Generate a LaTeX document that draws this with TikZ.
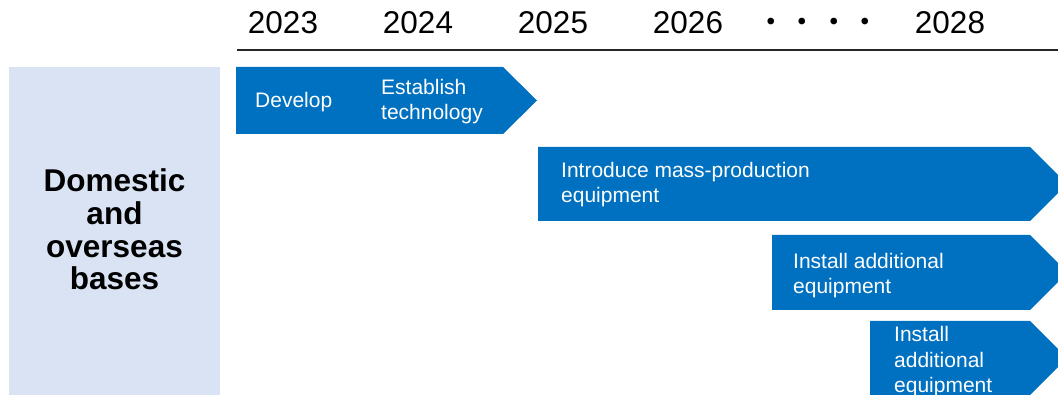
\documentclass[tikz,border=0pt]{standalone}
\usepackage{fontspec}
\setmainfont{Liberation Sans}
\newfontfamily\cjkfont{Noto Sans CJK JP}
\definecolor{barblue}{HTML}{0070C0}
\definecolor{panelblue}{HTML}{DAE3F3}

\begin{document}
\begin{tikzpicture}[x=1pt,y=-1pt,
  bar/.style={fill=barblue, draw=none},
  bartext/.style={anchor=base west, inner sep=0pt, text=white, align=left,
    font=\fontsize{21}{25.3}\selectfont},
  year/.style={anchor=base, inner sep=0pt, font=\fontsize{31.5}{36}\selectfont},
  paneltext/.style={anchor=base, inner sep=0pt, align=center,
    font=\fontsize{31.5}{32.7}\selectfont\bfseries}]
\useasboundingbox (0,0) rectangle (1058,395);
\clip (0,0) rectangle (1058,395);

% timeline header
\node[year] (y2023) at (283,34) {2023};
\node[year] (y2024) at (418,34) {2024};
\node[year] (y2025) at (553,34) {2025};
\node[year] (y2026) at (688,34) {2026};
\node[year, anchor=base west] (gap) at (755,34) {\cjkfont ・・・・};
\node[year] (y2028) at (950,34) {2028};
\coordinate (ruleL) at (237,50);
\coordinate (ruleR) at (1058,50);
\draw[line width=2pt, black!85] (ruleL) -- (ruleR);

% row label panel (base anchor = baseline of the last line)
\fill[panelblue] (9,67) rectangle (220,395);
\node[paneltext] (rowlabel) at (114.5,290) {Domestic\\and\\overseas\\bases};

% phase arrows
\fill[bar] (236,67) -- (503,67) -- (537,100.5) -- (503,134) -- (236,134) -- cycle;
\fill[bar] (538,147) -- (1030,147) -- (1067,184) -- (1030,221) -- (538,221) -- cycle;
\fill[bar] (772,235) -- (1030,235) -- (1067.5,272.5) -- (1030,310) -- (772,310) -- cycle;
\fill[bar] (870,321) -- (1030,321) -- (1067,358) -- (1030,395) -- (870,395) -- cycle;

% arrow labels (base anchor = baseline of the last line)
\node[bartext] (develop) at (255,107.5) {Develop};
\node[bartext] (establish) at (381,119.5) {Establish\\technology};
\node[bartext] (massprod) at (561,203) {Introduce mass-production\\equipment};
\node[bartext] (install1) at (793,294) {Install additional\\equipment};
\node[bartext] (install2) at (894,392.5) {Install\\additional\\equipment};
\end{tikzpicture}
\end{document}
